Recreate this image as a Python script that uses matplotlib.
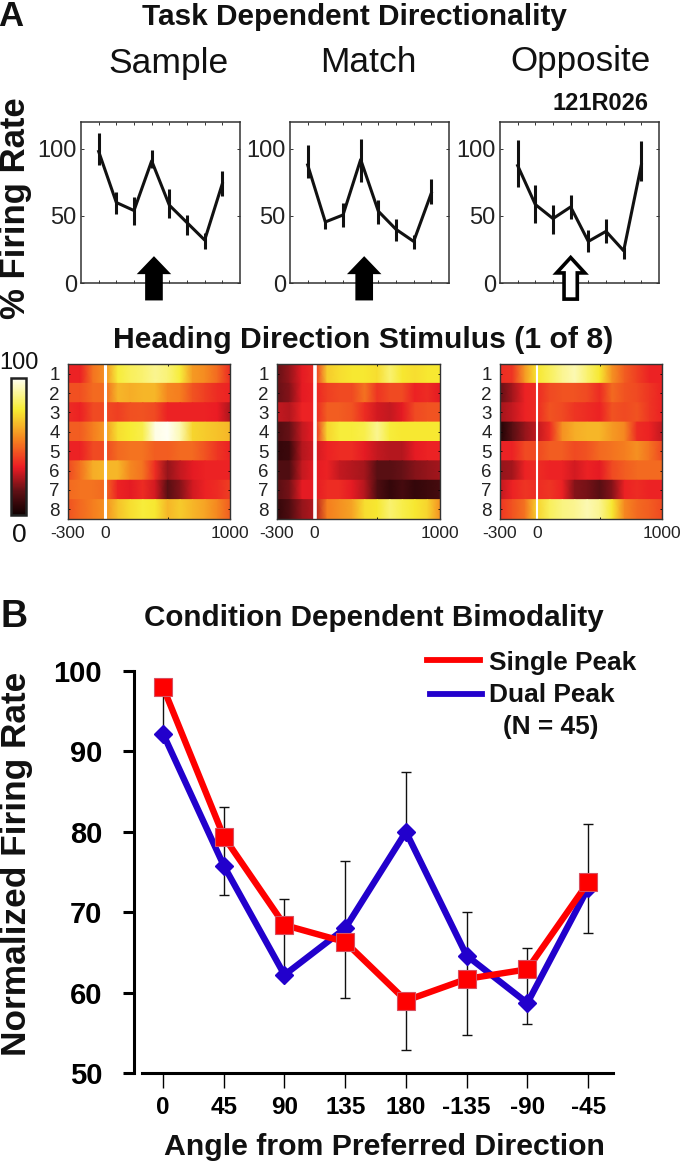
"""Task directionality tuning curves, heat maps and population averages."""
import matplotlib
matplotlib.use('Agg')
import matplotlib.pyplot as plt
import numpy as np
from matplotlib.cm import ScalarMappable
from matplotlib.colors import LinearSegmentedColormap, Normalize
from matplotlib.lines import Line2D

plt.rcParams['font.family'] = ['Liberation Sans', 'DejaVu Sans']

W, H = 680, 1167

# panel A, tuning curves
sample_mean = [98, 60, 54, 91, 58, 45, 32, 74]
sample_low = [87.6, 51.7, 43.5, 85.8, 48.5, 36, 25, 65]
sample_high = [112, 67.7, 64, 98.8, 70.4, 50.7, 37, 83.8]
match_mean = [88, 45.5, 50.7, 92, 53.5, 40, 31, 67]
match_low = [78, 40, 42, 75, 44, 31, 25.6, 59]
match_high = [102.7, 47, 60, 107.5, 61.7, 47.8, 35.6, 77.6]
opposite_mean = [87.5, 58.5, 48, 56.7, 31, 38.5, 24, 88]
opposite_low = [71.4, 44.8, 36.8, 47.8, 23, 30, 18, 76]
opposite_high = [106.5, 73, 58, 65.7, 39.3, 47.8, 27, 105.7]

# panel A, heat maps: rows are stimuli, columns are 100 ms bins
times = [-300, -200, -100, 0, 100, 200, 300, 400, 500, 600, 700, 800, 900, 1000]
heat_sample = [
    [36, 36, 52, 58, 78, 82, 84, 88, 85, 78, 60, 57, 50, 38],
    [45, 45, 50, 50, 66, 64, 66, 66, 56, 54, 46, 42, 38, 36],
    [38, 36, 44, 44, 42, 45, 46, 44, 36, 36, 36, 36, 35, 27],
    [48, 48, 54, 60, 74, 77, 80, 98, 100, 92, 72, 70, 68, 66],
    [36, 36, 44, 44, 50, 52, 52, 48, 48, 50, 50, 46, 40, 36],
    [44, 52, 64, 66, 66, 56, 52, 38, 24, 30, 34, 36, 36, 36],
    [50, 52, 52, 50, 36, 34, 38, 32, 16, 22, 32, 36, 38, 42],
    [46, 50, 54, 58, 68, 74, 78, 76, 66, 70, 66, 62, 56, 48],
]
heat_match = [
    [18, 24, 34, 38, 70, 74, 76, 76, 74, 84, 76, 74, 76, 76],
    [18, 22, 34, 36, 42, 44, 44, 52, 40, 44, 44, 36, 38, 34],
    [30, 28, 36, 36, 48, 48, 46, 38, 32, 30, 34, 44, 46, 46],
    [14, 18, 30, 35, 72, 78, 78, 80, 88, 78, 76, 76, 76, 76],
    [8, 10, 28, 32, 36, 38, 38, 34, 30, 28, 28, 34, 36, 36],
    [14, 14, 30, 34, 36, 30, 28, 26, 16, 16, 18, 22, 24, 26],
    [16, 20, 34, 34, 38, 38, 34, 28, 14, 8, 12, 8, 10, 12],
    [8, 14, 24, 28, 54, 58, 62, 74, 76, 84, 80, 76, 72, 58],
]
heat_opposite = [
    [38, 40, 60, 76, 82, 88, 92, 84, 76, 58, 48, 42, 36, 36],
    [18, 26, 36, 38, 44, 46, 46, 44, 38, 50, 46, 44, 40, 36],
    [26, 30, 36, 38, 46, 44, 40, 38, 36, 46, 44, 46, 40, 36],
    [4, 16, 24, 30, 38, 58, 64, 66, 66, 60, 56, 38, 36, 30],
    [36, 36, 44, 44, 48, 48, 44, 46, 50, 52, 54, 58, 52, 44],
    [24, 26, 36, 38, 36, 36, 32, 36, 34, 44, 48, 50, 50, 50],
    [30, 36, 40, 38, 40, 36, 22, 20, 16, 22, 36, 38, 36, 36],
    [40, 46, 52, 72, 82, 86, 88, 92, 88, 76, 56, 50, 48, 44],
]

# panel B
angle_labels = ['0', '45', '90', '135', '180', '-135', '-90', '-45']
single_peak = [98, 79.4, 68.4, 66.3, 59, 61.7, 62.9, 73.7]
dual_peak = [92.2, 75.8, 62.2, 68, 80, 64.6, 58.7, 73]
err_low = [92.2, 72.2, 62.2, 59.3, 52.9, 54.7, 56.1, 67.4]
err_high = [98, 83.1, 71.6, 76.4, 87.4, 70, 65.5, 81]
# at 180 the two bars do not meet between the markers
err_joined = [True, True, True, True, False, True, True, True]

heat_cmap = LinearSegmentedColormap.from_list('heat', [
    (0, '#100000'), (0.17, '#5e1015'), (0.35, '#ec1c24'),
    (0.55, '#f5821f'), (0.77, '#f7ec32'), (1, '#fffff5')])

fig = plt.figure(figsize=(W / 100, H / 100), dpi=100)


def add_ax(left, top, right, bottom):
    return fig.add_axes([left / W, 1 - bottom / H, (right - left) / W, (bottom - top) / H])


def txt(x, y, s, size, weight='normal', ha='center', rotation=0):
    fig.text(x / W, 1 - y / H, s, fontsize=size, fontweight=weight, ha=ha, va='center',
             rotation=rotation, color='#111111')


def tuning_panel(box, mean, low, high, arrow_x, filled):
    ax = add_ax(*box)
    pos = np.arange(1, 9)
    ax.vlines(pos, low, high, color='#111111', lw=2.2)
    ax.plot(pos, mean, color='#111111', lw=2.2)
    ax.set_xlim(0, 9)
    ax.set_ylim(0, 120)
    ax.set_xticks(pos)
    ax.set_xticklabels([])
    ax.set_yticks([0, 50, 100])
    ax.tick_params(direction='in', length=2, width=0.7, top=True, right=True,
                   labelsize=17, pad=3, labelcolor='#222222', color='#333333')
    for sp in ax.spines.values():
        sp.set_linewidth(1.1)
        sp.set_color('#333333')
    if filled:
        ax.arrow(arrow_x, -13, 0, 33, width=1.0, head_width=1.95, head_length=13.4,
                 length_includes_head=True, fc='black', ec='black', lw=0, clip_on=False, zorder=5)
    else:
        ax.arrow(arrow_x, -12, 0, 31, width=0.75, head_width=1.6, head_length=11.5,
                 length_includes_head=True, fc='white', ec='black', lw=2.6, clip_on=False, zorder=5)


def heat_panel(box, rows, line_width):
    ax = add_ax(*box)
    for i, row in enumerate(rows):
        ax.pcolormesh(times, [i + 0.5, i + 1.5], np.vstack([row, row]), shading='gouraud',
                      cmap=heat_cmap, vmin=0, vmax=100)
    ax.axvline(0, color='white', lw=line_width)
    ax.set_xlim(-300, 1000)
    ax.set_ylim(8.5, 0.5)
    ax.set_yticks(range(1, 9))
    ax.set_xticks([-300, 0, 500, 1000])
    ax.set_xticklabels(['-300', '0', '', '1000'], fontsize=12.5)
    ax.tick_params(axis='y', labelsize=13.5, length=1.5, width=0.6, right=True,
                   direction='in', pad=6, labelcolor='#222222')
    ax.tick_params(axis='x', length=1.5, width=0.6, top=True, direction='in', pad=5,
                   labelcolor='#222222')
    for sp in ax.spines.values():
        sp.set_linewidth(1.0)
        sp.set_color('#333333')


tuning_panel((81, 122, 240, 283), sample_mean, sample_low, sample_high, 4.13, True)
tuning_panel((290, 122, 449, 283), match_mean, match_low, match_high, 4.2, True)
tuning_panel((500, 122, 659, 283), opposite_mean, opposite_low, opposite_high, 4.0, False)

heat_panel((68, 364, 230, 519), heat_sample, 2.2)
heat_panel((277, 364, 440, 519), heat_match, 2.6)
heat_panel((500, 364, 662, 519), heat_opposite, 1.5)

# colour scale
cax = add_ax(11, 378, 26, 515)
fig.colorbar(ScalarMappable(Normalize(0, 100), heat_cmap), cax=cax, ticks=[])
cax.spines['outline'].set_linewidth(1.8)
cax.spines['outline'].set_color('#222222')
txt(19, 363, '100', 17)
txt(19, 535, '0', 19)

txt(354, 17, 'Task Dependent Directionality', 21.4, 'bold')
txt(169, 63, 'Sample', 25.5)
txt(368, 63, 'Match', 25.5)
txt(581, 62, 'Opposite', 25.2)
txt(601, 103, '121R026', 17, 'bold')
txt(16, 208, '% Firing Rate', 25, 'bold', rotation=90)
txt(363, 340, 'Heading Direction Stimulus (1 of 8)', 21.7, 'bold')
txt(11, 17, 'A', 25, 'bold')
txt(14, 617, 'B', 27, 'bold')
txt(374, 618, 'Condition Dependent Bimodality', 21.3, 'bold')

# population averages
ax = add_ax(134, 671, 613, 1073)
pos = np.arange(8)
top = np.maximum(single_peak, dual_peak)
bottom = np.minimum(single_peak, dual_peak)
err_style = dict(fmt='none', ecolor='#111111', elinewidth=1.0, capsize=3.4, capthick=1.0, zorder=2)
ax.errorbar(pos, top, yerr=[np.zeros(8), np.array(err_high) - top], **err_style)
ax.errorbar(pos, bottom, yerr=[bottom - np.array(err_low), np.zeros(8)], **err_style)
joined = np.array(err_joined)
ax.vlines(pos[joined], bottom[joined], top[joined], color='#111111', lw=1.0, zorder=2)
ax.plot(pos, dual_peak, color='#2200cc', lw=4.6, marker='D', ms=9.5, zorder=3)
ax.plot(pos, single_peak, color='#fe0000', lw=4.6, marker='s', ms=13, mec='#d85060',
        mew=0.8, zorder=4)
ax.set_xlim(-0.478, 7.41)
ax.set_ylim(50, 100)
ax.spines[['top', 'right']].set_visible(False)
ax.spines['left'].set_linewidth(2.2)
ax.spines['bottom'].set_linewidth(2.2)
ax.spines['bottom'].set_bounds(-0.346, 7.41)
ax.patch.set_alpha(0)
ax.set_yticks(range(50, 101, 10))
ax.set_xticks(pos)
ax.set_xticklabels(angle_labels)
ax.tick_params(axis='y', length=8, width=2.2, labelsize=21, pad=15)
ax.tick_params(axis='x', length=10.8, width=1.0, labelsize=17.5, pad=6)
for label in ax.get_xticklabels() + ax.get_yticklabels():
    label.set_fontweight('bold')
txt(384, 1147, 'Angle from Preferred Direction', 21.8, 'bold')
txt(17, 864, 'Normalized Firing Rate', 25.4, 'bold', rotation=90)

fig.add_artist(Line2D([427 / W, 480 / W], [1 - 660 / H] * 2, color='#fe0000', lw=4.2))
fig.add_artist(Line2D([430 / W, 482 / W], [1 - 694 / H] * 2, color='#2200cc', lw=4.2))
txt(489, 663, 'Single Peak', 18.9, 'bold', ha='left')
txt(489, 695, 'Dual Peak', 18.9, 'bold', ha='left')
txt(551, 727, '(N = 45)', 18.9, 'bold')

fig.savefig('out.png', dpi=100)
